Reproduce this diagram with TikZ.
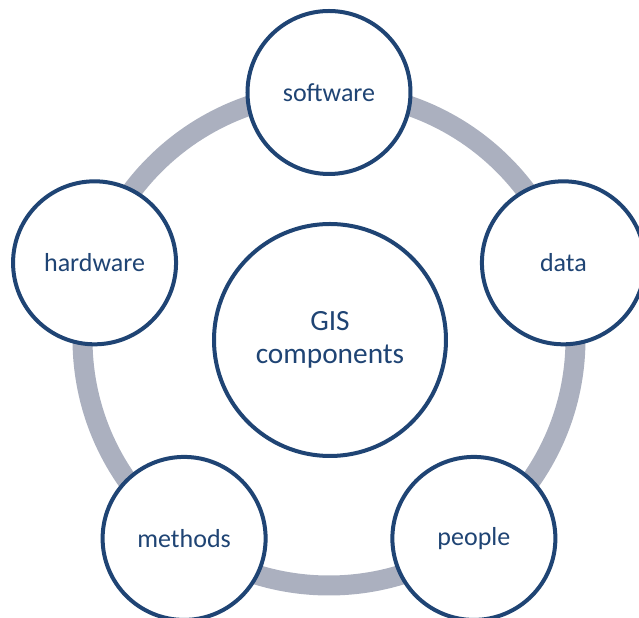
\documentclass[tikz,border=0pt]{standalone}
\usepackage{fontspec}
\setmainfont{Carlito}
\definecolor{gisblue}{RGB}{31,68,116}
\definecolor{gisgray}{RGB}{171,176,191}

\begin{document}
\begin{tikzpicture}
    [every node/.style={circle, draw=gisblue, line width=0.08cm, fill=white,
       text=gisblue, align=center},
     part/.style={minimum size=3.26cm, font=\fontsize{14.8}{17}\selectfont},
     hub/.style={minimum size=4.64cm, font=\fontsize{16.7}{19}\selectfont},
     ring/.style={draw=gisgray, line width=0.4cm}]

    \useasboundingbox (-6.58,-5.58) rectangle (6.2,6.78);

    % gray ring behind the parts
    \draw[ring] (0,0) circle (4.93);

    \node[hub] (gis) at (0.02,-0.02) {GIS\\components};

    \node[part] (software) at (90:4.93) {software};
    \node[part] (data) at (18:4.93) {data};
    \node[part] (people) at (-54:4.93) {people};
    \node[part] (methods) at (234:4.93) {methods};
    \node[part] (hardware) at (162:4.93) {hardware};
  \end{tikzpicture}
\end{document}
